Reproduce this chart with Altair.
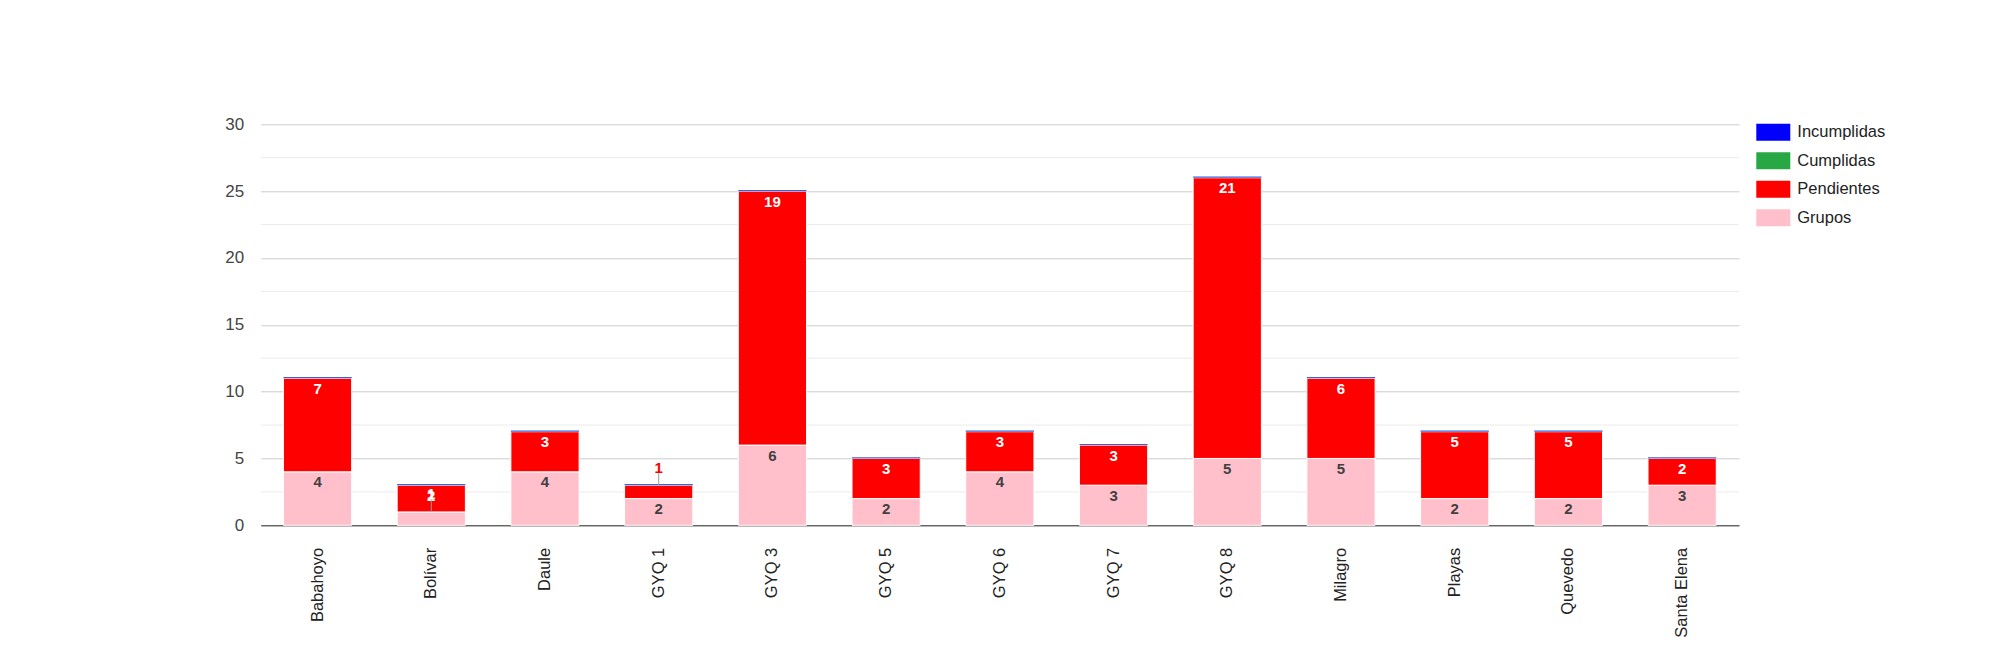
import altair as alt
import pandas as pd

categorias = ["Babahoyo", "Bolívar", "Daule", "GYQ 1", "GYQ 3", "GYQ 5", "GYQ 6",
              "GYQ 7", "GYQ 8", "Milagro", "Playas", "Quevedo", "Santa Elena"]
grupos = [4, 1, 4, 2, 6, 2, 4, 3, 5, 5, 2, 2, 3]
pendientes = [7, 2, 3, 1, 19, 3, 3, 3, 21, 6, 5, 5, 2]
cumplidas = [0, 0, 0, 0, 0, 0, 0, 0, 0, 0, 0, 0, 0]
incumplidas = [0, 0, 0, 0, 0, 0, 0, 0, 0, 0, 0, 0, 0]

serie_nombres = ["Grupos", "Pendientes", "Cumplidas", "Incumplidas"]
legend_order = ["Incumplidas", "Cumplidas", "Pendientes", "Grupos"]
legend_colors = ["#0000ff", "#28a745", "#ff0000", "#ffc0cb"]
y_ticks = [0, 5, 10, 15, 20, 25, 30]
minor_ticks = [2.5, 7.5, 12.5, 17.5, 22.5, 27.5]

rows = []
for orden, (nombre, vals) in enumerate(zip(serie_nombres, [grupos, pendientes, cumplidas, incumplidas])):
    for c, v in zip(categorias, vals):
        rows.append({"categoria": c, "serie": nombre, "valor": v, "orden": orden})
df = pd.DataFrame(rows)

FONT = "Liberation Sans"
W, H = 1478.3, 401

x_enc = alt.X("categoria:N", sort=categorias,
              scale=alt.Scale(paddingInner=0.4, paddingOuter=0.2),
              axis=alt.Axis(title=None, labelAngle=-90, labelFont=FONT, labelFontSize=16.5,
                            labelColor="#222222", ticks=False, labelPadding=22,
                            domainColor="#333333", domainWidth=1, grid=False))
y_scale = alt.Scale(domain=[0, 30], nice=False)
y_axis = alt.Axis(title=None, values=y_ticks, labelFont=FONT, labelFontSize=17,
                  labelColor="#444444", ticks=False, domain=False, labelPadding=17,
                  grid=True, gridColor="#cccccc", gridWidth=1)
y_enc = alt.Y("v1:Q", scale=y_scale, axis=y_axis)

base = alt.Chart(df).transform_stack(
    stack="valor", groupby=["categoria"], as_=["v0", "v1"],
    sort=[alt.SortField("orden", order="ascending")]
)

minor = alt.Chart(pd.DataFrame({"g": minor_ticks})).mark_rule(color="#ebebeb", strokeWidth=1).encode(
    y=alt.Y("g:Q", scale=y_scale, axis=y_axis)
)

bars = base.transform_filter("datum.valor > 0").mark_bar(stroke="white", strokeWidth=1).encode(
    x=x_enc, y=y_enc, y2="v0:Q",
    color=alt.Color("serie:N", scale=alt.Scale(domain=legend_order, range=legend_colors),
                    legend=alt.Legend(title=None, orient="none", legendX=W + 17.3, legendY=-9,
                                      symbolType="M-1,-0.5H1V0.5H-1Z", symbolSize=1156,
                                      symbolStrokeWidth=0, labelFont=FONT, labelFontSize=16.5,
                                      labelColor="#222222", labelOffset=7, rowPadding=2.5,
                                      padding=0))
)

sliver = base.transform_filter("datum.serie == 'Incumplidas'").mark_bar(
    color="#3d5fd9", strokeWidth=0, y2Offset=-1.2
).encode(x=x_enc, y=y_enc, y2="v1:Q")

labels_in = base.transform_filter(
    "datum.valor >= 2 && (datum.serie == 'Pendientes' || datum.serie == 'Grupos')"
).mark_text(font=FONT, fontSize=15, fontWeight="bold", dy=15.5, baseline="alphabetic").encode(
    x=x_enc, y=y_enc, text="valor:Q",
    color=alt.condition("datum.serie == 'Pendientes'", alt.value("#ffffff"), alt.value("#404040"))
)

small = base.transform_filter(
    "datum.valor == 1 && (datum.serie == 'Pendientes' || datum.serie == 'Grupos')"
)
labels_out = small.mark_text(font=FONT, fontSize=15, fontWeight="bold", dy=-12.5,
                             baseline="alphabetic").encode(
    x=x_enc, y=y_enc, text="valor:Q",
    color=alt.condition("datum.serie == 'Pendientes'", alt.value("#ff0000"), alt.value("#ffffff"))
)
leaders = small.mark_rule(color="#999999", strokeWidth=1, y2Offset=-12).encode(
    x=x_enc, y=y_enc, y2="v1:Q"
)

chart = alt.layer(minor, bars, sliver, labels_in, leaders, labels_out).properties(
    width=W, height=H,
    background="white",
    padding={"left": 252.7, "top": 116.3, "right": 253, "bottom": 125},
    autosize=alt.AutoSizeParams(type="none"),
).configure_view(stroke=None)

chart.save("out.html", embed_options={"renderer": "svg", "actions": False})
